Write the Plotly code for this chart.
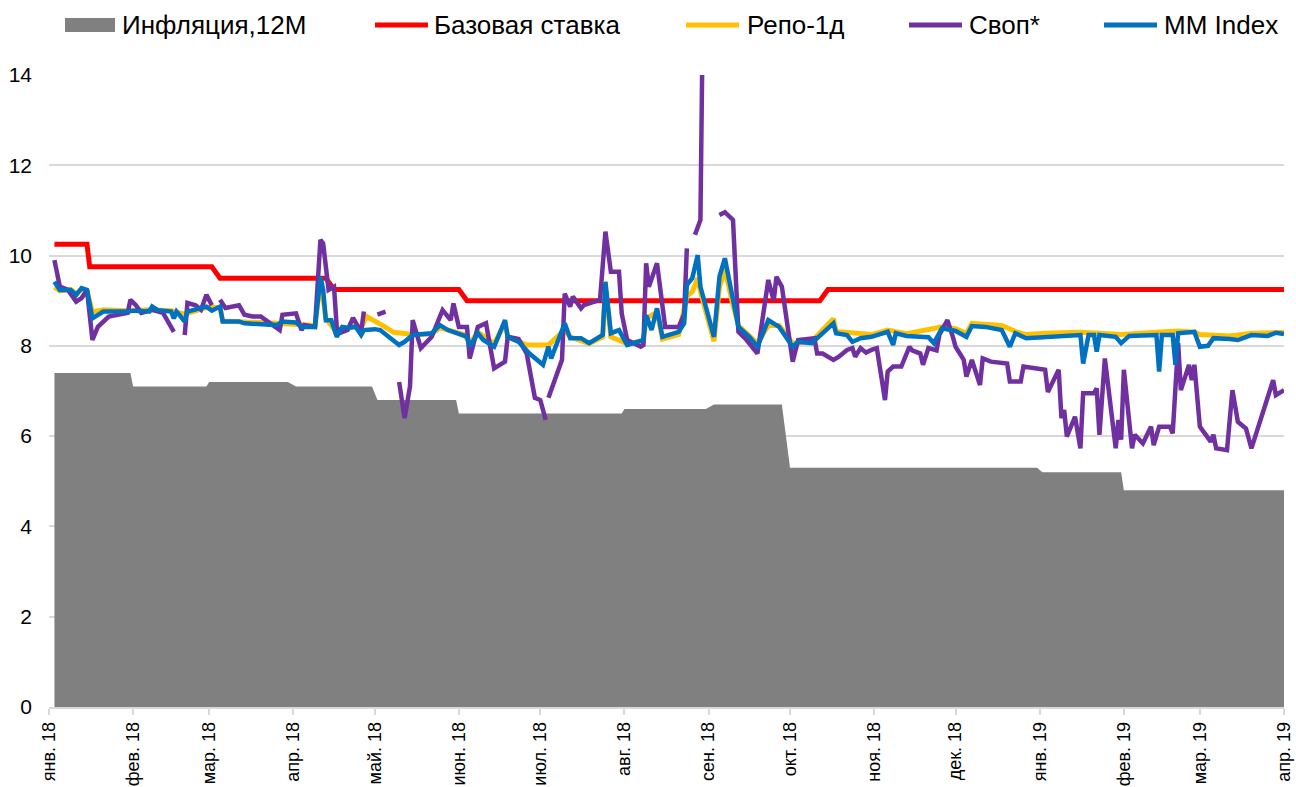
import plotly.graph_objects as go

# ---------------- data ----------------
month_ticks = ["2018-01-01", "2018-02-01", "2018-03-01", "2018-04-01", "2018-05-01", "2018-06-01",
               "2018-07-01", "2018-08-01", "2018-09-01", "2018-10-01", "2018-11-01", "2018-12-01",
               "2019-01-01", "2019-02-01", "2019-03-01", "2019-04-01"]
month_labels = ["янв. 18", "фев. 18", "мар. 18", "апр. 18", "май. 18", "июн. 18", "июл. 18", "авг. 18",
                "сен. 18", "окт. 18", "ноя. 18", "дек. 18", "янв. 19", "фев. 19", "мар. 19", "апр. 19"]

infl_dates = ["2018-01-03", "2018-01-31", "2018-02-01", "2018-02-28", "2018-03-01", "2018-03-30",
              "2018-04-02", "2018-04-30", "2018-05-02", "2018-05-31", "2018-06-01", "2018-07-31",
              "2018-08-01", "2018-08-31", "2018-09-03", "2018-09-28", "2018-10-01", "2018-12-31",
              "2019-01-02", "2019-01-31", "2019-02-01", "2019-04-01"]
infl_values = [7.4, 7.4, 7.1, 7.1, 7.2, 7.2,
               7.1, 7.1, 6.8, 6.8, 6.5, 6.5,
               6.6, 6.6, 6.7, 6.7, 5.3, 5.3,
               5.2, 5.2, 4.8, 4.8]

base_dates = ["2018-01-03", "2018-01-15", "2018-01-16", "2018-03-02", "2018-03-05", "2018-04-13",
              "2018-04-16", "2018-06-01", "2018-06-04", "2018-10-12", "2018-10-15", "2019-04-01"]
base_values = [10.25, 10.25, 9.75, 9.75, 9.5, 9.5, 9.25, 9.25, 9.0, 9.0, 9.25, 9.25]

repo_dates = ["2018-01-03", "2018-01-05", "2018-01-09", "2018-01-11", "2018-01-13", "2018-01-15",
              "2018-01-17", "2018-01-21", "2018-01-30", "2018-02-07", "2018-02-15", "2018-02-20",
              "2018-02-28", "2018-03-05", "2018-03-06", "2018-03-14", "2018-03-26", "2018-04-04",
              "2018-04-09", "2018-04-11", "2018-04-13", "2018-04-17", "2018-04-24", "2018-04-26",
              "2018-04-28", "2018-05-04", "2018-05-08", "2018-05-15", "2018-05-22", "2018-05-25",
              "2018-06-03", "2018-06-05", "2018-06-08", "2018-06-14", "2018-06-18", "2018-06-19",
              "2018-06-23", "2018-06-26", "2018-07-04", "2018-07-10", "2018-07-12", "2018-07-19",
              "2018-07-24", "2018-07-25", "2018-07-27", "2018-08-02", "2018-08-08", "2018-08-09",
              "2018-08-13", "2018-08-15", "2018-08-21", "2018-08-24", "2018-08-26", "2018-08-28",
              "2018-08-29", "2018-09-03", "2018-09-05", "2018-09-07", "2018-09-10", "2018-09-12",
              "2018-09-19", "2018-09-23", "2018-09-27", "2018-10-02", "2018-10-09", "2018-10-17",
              "2018-10-18", "2018-10-31", "2018-11-06", "2018-11-13", "2018-11-26", "2018-12-01",
              "2018-12-05", "2018-12-07", "2018-12-18", "2018-12-23", "2018-12-27", "2019-01-03",
              "2019-01-16", "2019-01-31", "2019-02-13", "2019-02-21", "2019-02-27", "2019-03-01",
              "2019-03-12", "2019-03-20", "2019-04-01"]
repo_values = [9.3, 9.22, 9.25, 9.15, 9.25, 9.22,
               8.75, 8.8, 8.78, 8.8, 8.78, 8.7,
               8.85, 8.85, 8.55, 8.52, 8.5, 8.47,
               8.45, 9.45, 8.6, 8.3, 8.45, 8.4,
               8.65, 8.45, 8.3, 8.25, 8.26, 8.4,
               8.25, 8.05, 8.3, 8.05, 8.5, 8.2,
               8.1, 8.02, 8.02, 8.35, 8.2, 8.05,
               8.2, 9.3, 8.2, 8.05, 8.1, 8.6,
               8.75, 8.15, 8.25, 9.1, 9.2, 9.5,
               9.2, 8.1, 9.3, 9.7, 8.9, 8.45,
               8.05, 8.45, 8.45, 8.05, 8.1, 8.6,
               8.32, 8.25, 8.35, 8.27, 8.42, 8.38,
               8.28, 8.5, 8.45, 8.32, 8.25, 8.28,
               8.3, 8.25, 8.3, 8.33, 8.3, 8.25,
               8.22, 8.28, 8.3]

swap_dates = ["2018-01-03", "2018-01-05", "2018-01-08", "2018-01-11", "2018-01-13", "2018-01-15",
              "2018-01-17", "2018-01-19", "2018-01-23", "2018-01-30", "2018-01-31", "2018-02-02",
              "2018-02-04", "2018-02-08", "2018-02-12", "2018-02-15", "2018-02-16", "2018-02-18",
              "2018-02-20", "2018-02-21", "2018-02-24", "2018-02-26", "2018-02-28", "2018-03-02",
              "2018-03-03", "2018-03-05", "2018-03-07", "2018-03-12", "2018-03-14", "2018-03-17",
              "2018-03-20", "2018-03-27", "2018-03-28", "2018-04-02", "2018-04-04", "2018-04-05",
              "2018-04-09", "2018-04-11", "2018-04-12", "2018-04-14", "2018-04-16", "2018-04-17",
              "2018-04-18", "2018-04-21", "2018-04-23", "2018-04-26", "2018-04-27", "2018-04-29",
              "2018-05-02", "2018-05-05", "2018-05-07",
              "2018-05-10", "2018-05-12", "2018-05-14", "2018-05-15", "2018-05-18", "2018-05-22",
              "2018-05-26", "2018-05-29", "2018-05-30", "2018-06-01", "2018-06-04", "2018-06-05",
              "2018-06-08", "2018-06-11", "2018-06-14", "2018-06-18", "2018-06-19", "2018-06-23",
              "2018-06-26", "2018-06-28", "2018-06-29", "2018-07-01", "2018-07-03", "2018-07-03T12",
              "2018-07-04", "2018-07-07", "2018-07-09", "2018-07-10", "2018-07-12", "2018-07-13",
              "2018-07-16", "2018-07-17", "2018-07-23", "2018-07-25", "2018-07-27", "2018-07-30",
              "2018-07-31", "2018-08-02", "2018-08-07", "2018-08-08", "2018-08-09", "2018-08-10",
              "2018-08-13", "2018-08-16", "2018-08-21", "2018-08-23", "2018-08-24", "2018-08-25",
              "2018-08-27", "2018-08-29", "2018-08-30", "2018-08-31",
              "2018-09-05", "2018-09-07", "2018-09-10", "2018-09-12", "2018-09-15", "2018-09-19",
              "2018-09-23", "2018-09-25", "2018-09-26", "2018-09-28", "2018-10-02", "2018-10-04",
              "2018-10-10", "2018-10-11", "2018-10-13", "2018-10-17", "2018-10-19", "2018-10-22",
              "2018-10-24", "2018-10-25", "2018-10-27", "2018-10-29", "2018-10-31", "2018-11-02",
              "2018-11-05", "2018-11-06", "2018-11-08", "2018-11-11", "2018-11-14", "2018-11-15",
              "2018-11-18", "2018-11-19", "2018-11-21", "2018-11-24", "2018-11-25", "2018-11-28",
              "2018-11-30", "2018-12-01", "2018-12-04", "2018-12-05", "2018-12-07", "2018-12-10",
              "2018-12-11", "2018-12-14", "2018-12-20", "2018-12-21", "2018-12-25", "2018-12-26",
              "2019-01-03", "2019-01-04", "2019-01-08", "2019-01-09", "2019-01-10", "2019-01-11",
              "2019-01-14", "2019-01-16", "2019-01-17", "2019-01-21", "2019-01-22", "2019-01-23",
              "2019-01-25", "2019-01-29", "2019-01-30", "2019-01-31", "2019-02-01", "2019-02-04",
              "2019-02-05", "2019-02-08", "2019-02-11", "2019-02-12", "2019-02-14", "2019-02-18",
              "2019-02-19", "2019-02-21", "2019-02-22", "2019-02-25", "2019-02-26", "2019-02-27",
              "2019-03-01", "2019-03-05", "2019-03-06", "2019-03-07", "2019-03-11", "2019-03-13",
              "2019-03-15", "2019-03-18", "2019-03-20", "2019-03-26", "2019-03-28", "2019-03-29",
              "2019-04-01"]
swap_values = [9.9, 9.31, 9.24, 8.98, 9.06, 9.24,
               8.13, 8.42, 8.65, 8.73, 9.02, 8.9,
               8.73, 8.8, 8.73, 8.39, 8.31, None,
               8.24, 8.95, 8.9, 8.8, 9.13, 8.9,
               None, 9.02, 8.84, 8.9, 8.69, 8.65,
               8.65, 8.35, 8.69, 8.72, 8.35, 8.46,
               8.42, 10.35, 10.27, 9.24, 9.31, 8.42,
               8.28, 8.35, 8.62, 8.31, 8.76, None,
               8.69, 8.76, None,
               7.2, 6.4, 7.1, 8.57, 7.95, 8.2,
               8.79, 8.57, 8.94, 8.42, 8.42, 7.72,
               8.42, 8.5, 7.5, 7.65, 8.2, 8.15,
               7.83, 7.24, 6.85, 6.8, 6.36, None,
               6.85, 7.4, 7.69, 9.16, 8.87, 9.09,
               8.83, 8.9, 9.02, 10.53, 9.64, 9.64,
               8.72, 8.13, 7.98, 8.02, 9.83, 9.31,
               9.83, 8.42, 8.42, 8.7, 10.16, None,
               10.46, 10.79, 16.0, None,
               10.9, 10.96, 10.79, 8.31, 8.13, 7.83,
               9.46, 9.0, 9.53, 9.31, 7.65, 8.13,
               8.17, 7.83, 7.83, 7.69, 7.76, 7.91,
               7.95, 7.76, 7.95, 7.85, 7.91, 7.95,
               6.8, 7.43, 7.54, 7.54, 7.98, 7.9,
               7.83, 7.58, 7.95, 7.9, 8.24, 8.57,
               8.2, 7.98, 7.69, 7.32, 7.69, 7.13,
               7.72, 7.65, 7.61, 7.21, 7.21, 7.54,
               7.47, 6.98, 7.47, 6.4, 6.58, 5.99,
               6.43, 5.73, 6.95, 6.95, 7.06, 6.03,
               7.72, 5.73, 6.36, 5.92, 7.47, 5.73,
               6.03, 5.84, 6.21, 5.8, 6.21, 6.21,
               6.06, 8.06, 7.02, 7.58, 7.24, 7.58,
               6.21, 5.88, 6.03, 5.73, 5.69, 7.02,
               6.32, 6.17, 5.73, 6.87, 7.24, 6.91,
               7.02]

mm_dates = ["2018-01-03", "2018-01-05", "2018-01-09", "2018-01-11", "2018-01-13", "2018-01-15",
            "2018-01-17", "2018-01-21", "2018-01-30", "2018-02-01", "2018-02-07", "2018-02-08",
            "2018-02-10", "2018-02-15", "2018-02-16", "2018-02-17", "2018-02-20", "2018-02-21",
            "2018-02-28", "2018-03-02", "2018-03-05", "2018-03-06", "2018-03-12", "2018-03-14",
            "2018-03-26", "2018-03-28", "2018-04-02", "2018-04-04", "2018-04-09", "2018-04-11",
            "2018-04-12", "2018-04-13", "2018-04-15", "2018-04-17", "2018-04-19", "2018-04-21",
            "2018-04-24", "2018-04-26", "2018-04-27", "2018-05-01", "2018-05-03", "2018-05-10",
            "2018-05-12", "2018-05-15", "2018-05-22", "2018-05-25", "2018-05-28", "2018-06-03",
            "2018-06-04", "2018-06-05", "2018-06-08", "2018-06-10", "2018-06-14", "2018-06-18",
            "2018-06-19", "2018-06-23", "2018-06-27", "2018-07-02", "2018-07-04", "2018-07-05",
            "2018-07-10", "2018-07-12", "2018-07-16", "2018-07-19", "2018-07-24", "2018-07-25",
            "2018-07-27", "2018-07-30", "2018-08-02", "2018-08-08", "2018-08-09", "2018-08-11",
            "2018-08-13", "2018-08-15", "2018-08-21", "2018-08-23", "2018-08-24", "2018-08-26",
            "2018-08-28", "2018-08-29", "2018-09-03", "2018-09-05", "2018-09-07", "2018-09-12",
            "2018-09-16", "2018-09-19", "2018-09-23", "2018-09-27", "2018-10-02", "2018-10-04",
            "2018-10-09", "2018-10-17", "2018-10-18", "2018-10-22", "2018-10-24", "2018-10-27",
            "2018-10-31", "2018-11-06", "2018-11-08", "2018-11-09", "2018-11-13", "2018-11-21",
            "2018-11-23", "2018-11-26", "2018-12-01", "2018-12-05", "2018-12-07", "2018-12-12",
            "2018-12-18", "2018-12-21", "2018-12-23", "2018-12-27", "2019-01-03", "2019-01-08",
            "2019-01-16", "2019-01-17", "2019-01-19", "2019-01-21", "2019-01-22", "2019-01-23",
            "2019-01-29", "2019-01-31", "2019-02-03", "2019-02-13", "2019-02-14", "2019-02-15",
            "2019-02-19", "2019-02-20", "2019-02-21", "2019-02-27", "2019-03-01", "2019-03-04",
            "2019-03-06", "2019-03-12", "2019-03-15", "2019-03-20", "2019-03-26", "2019-03-29",
            "2019-04-01"]
mm_values = [9.42, 9.24, 9.24, 9.13, 9.28, 9.24,
             8.61, 8.76, 8.76, 8.78, 8.76, 8.87,
             8.79, 8.76, 8.61, 8.76, 8.54, 8.76,
             8.87, 8.78, 8.87, 8.54, 8.54, 8.5,
             8.46, 8.54, 8.52, 8.42, 8.42, 9.53,
             9.24, 8.57, 8.57, 8.2, 8.42, 8.4,
             8.42, 8.24, 8.35, 8.37, 8.35, 8.02,
             8.09, 8.24, 8.28, 8.46, 8.35, 8.2,
             8.2, 7.98, 8.28, 8.13, 7.98, 8.57,
             8.2, 8.09, 7.83, 7.58, 7.98, 7.72,
             8.5, 8.17, 8.17, 8.06, 8.24, 9.42,
             8.28, 8.35, 8.02, 8.13, 8.68, 8.35,
             8.83, 8.2, 8.31, 8.5, 9.35, 9.5,
             10.01, 9.31, 8.2, 9.53, 9.94, 8.42,
             8.2, 7.98, 8.57, 8.42, 7.98, 8.09,
             8.06, 8.5, 8.28, 8.24, 8.09, 8.17,
             8.2, 8.31, 8.02, 8.28, 8.22, 8.19,
             8.06, 8.39, 8.33, 8.2, 8.44, 8.42,
             8.35, 7.98, 8.28, 8.17, 8.2, 8.2,
             8.24, 7.61, 8.24, 8.24, 7.87, 8.24,
             8.2, 8.06, 8.22, 8.24, 7.43, 8.24,
             8.24, 7.58, 8.28, 8.31, 7.98, 8.0,
             8.17, 8.15, 8.13, 8.24, 8.22, 8.29,
             8.26]

series_names = ["Инфляция,12М", "Базовая ставка", "Репо-1д", "Своп*", "MM Index"]
series_colors = ["#808080", "#FF0000", "#FFC000", "#7030A0", "#0070C0"]

# ---------------- figure ----------------
W, H = 1296, 787
ML, MR, MT, MB = 49, 12, 75, 80
FONT = "Liberation Sans, Arial, sans-serif"

fig = go.Figure()
fig.add_trace(go.Scatter(x=infl_dates, y=infl_values, name=series_names[0], mode="lines",
                         line=dict(width=0, color=series_colors[0]), fill="tozeroy",
                         fillcolor=series_colors[0], showlegend=False))
fig.add_trace(go.Scatter(x=base_dates, y=base_values, name=series_names[1], mode="lines",
                         line=dict(width=5, color=series_colors[1]), showlegend=False))
fig.add_trace(go.Scatter(x=repo_dates, y=repo_values, name=series_names[2], mode="lines",
                         line=dict(width=5, color=series_colors[2]), showlegend=False))
fig.add_trace(go.Scatter(x=swap_dates, y=swap_values, name=series_names[3], mode="lines",
                         line=dict(width=4.5, color=series_colors[3]), connectgaps=False,
                         showlegend=False))
fig.add_trace(go.Scatter(x=mm_dates, y=mm_values, name=series_names[4], mode="lines",
                         line=dict(width=4.5, color=series_colors[4]), showlegend=False))

# manual legend (Excel-like placement)
plot_w = W - ML - MR
plot_h = H - MT - MB
def px_x(p):
    return (p - ML) / plot_w
def px_y(p):
    return (H - MB - p) / plot_h

legend_sym_x = [65, 375, 686, 909, 1104]
legend_txt_x = [120, 432, 745, 967, 1162]
ly = 25
shapes = []
annotations = []
for i, name in enumerate(series_names):
    if i == 0:
        shapes.append(dict(type="rect", xref="paper", yref="paper",
                           x0=px_x(legend_sym_x[i]), x1=px_x(legend_sym_x[i] + 50),
                           y0=px_y(ly + 7), y1=px_y(ly - 7),
                           fillcolor=series_colors[i], line=dict(width=0)))
    else:
        shapes.append(dict(type="line", xref="paper", yref="paper",
                           x0=px_x(legend_sym_x[i]), x1=px_x(legend_sym_x[i] + 53),
                           y0=px_y(ly), y1=px_y(ly),
                           line=dict(color=series_colors[i], width=5)))
    annotations.append(dict(text=name, xref="paper", yref="paper", x=px_x(legend_txt_x[i]),
                            y=px_y(ly), xanchor="left", yanchor="middle", showarrow=False,
                            font=dict(family=FONT, size=26, color="#000000")))

fig.update_layout(
    width=W, height=H,
    margin=dict(l=ML, r=MR, t=MT, b=MB, autoexpand=False),
    paper_bgcolor="white", plot_bgcolor="white",
    showlegend=False,
    shapes=shapes, annotations=annotations,
    font=dict(family=FONT, color="#000000"),
)
fig.update_xaxes(type="date", range=["2018-01-01", "2019-04-01"], automargin=False,
                 tickmode="array", tickvals=month_ticks, ticktext=month_labels,
                 tickangle=-90, tickfont=dict(family=FONT, size=18, color="#000000"),
                 ticks="outside", ticklen=6, tickwidth=1.5, tickcolor="#D9D9D9",
                 showline=True, linecolor="#D9D9D9", linewidth=1.5,
                 showgrid=False, zeroline=False)
fig.update_yaxes(range=[0, 14], tickmode="linear", tick0=0, dtick=2, automargin=False,
                 tickfont=dict(family=FONT, size=21, color="#000000"),
                 showgrid=True, gridcolor="#D9D9D9", gridwidth=1.5,
                 zeroline=False, showline=False, ticks="", ticklabelstandoff=16)

fig.write_html("out.html", config={"displayModeBar": False},
               post_script="document.body.style.margin='0';")
